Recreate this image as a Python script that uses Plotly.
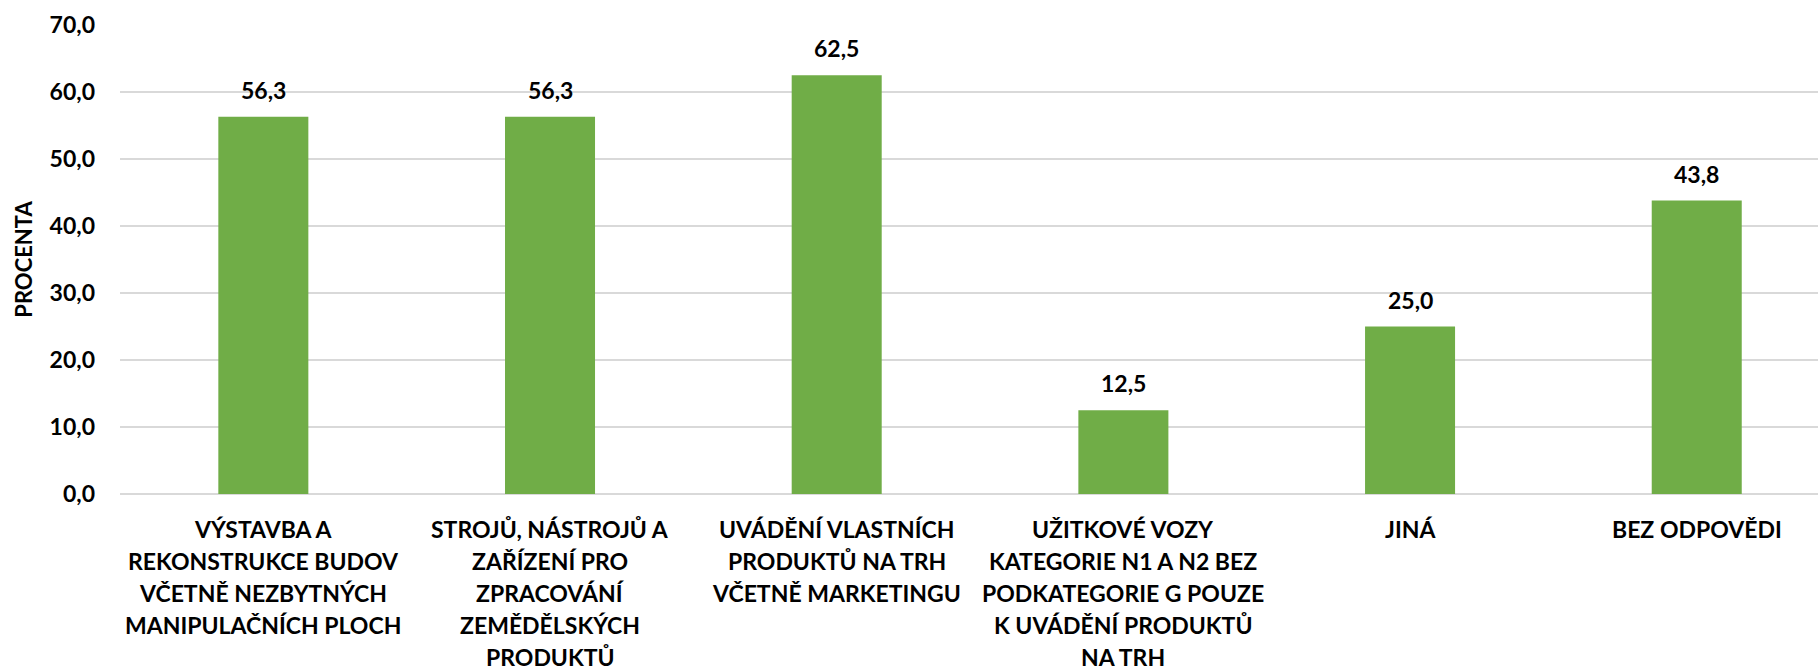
import plotly.graph_objects as go

categories = [
    "VÝSTAVBA A<br>REKONSTRUKCE BUDOV<br>VČETNĚ NEZBYTNÝCH<br>MANIPULAČNÍCH PLOCH",
    "STROJŮ, NÁSTROJŮ A<br>ZAŘÍZENÍ PRO<br>ZPRACOVÁNÍ<br>ZEMĚDĚLSKÝCH<br>PRODUKTŮ",
    "UVÁDĚNÍ VLASTNÍCH<br>PRODUKTŮ NA TRH<br>VČETNĚ MARKETINGU",
    "UŽITKOVÉ VOZY<br>KATEGORIE N1 A N2 BEZ<br>PODKATEGORIE G POUZE<br>K UVÁDĚNÍ PRODUKTŮ<br>NA TRH",
    "JINÁ",
    "BEZ ODPOVĚDI",
]
values = [56.3, 56.3, 62.5, 12.5, 25.0, 43.8]
y_ticks = [0, 10, 20, 30, 40, 50, 60, 70]
y_title = "PROCENTA"

FONT = "Lato, sans-serif"
FS = 23
LINE_GAP = 32
x_idx = list(range(len(categories)))

fig = go.Figure()
fig.add_trace(go.Bar(
    x=x_idx, y=values, width=0.314,
    marker=dict(color="#70AD47", line=dict(width=0)),
    hoverinfo="skip",
))
# value labels
for i, v in zip(x_idx, values):
    fig.add_annotation(
        x=i, y=v, text=f"<b>{v:.1f}</b>".replace(".", ","), showarrow=False,
        yanchor="bottom", yshift=11,
        font=dict(family=FONT, size=FS, color="#000000"),
    )
# category labels (one annotation per line for Excel-like line spacing)
for i, cat in zip(x_idx, categories):
    for k, line in enumerate(cat.split("<br>")):
        fig.add_annotation(
            x=i, y=0, text=f"<b>{line}</b>", showarrow=False,
            yanchor="middle", yshift=-(35 + k * LINE_GAP),
            font=dict(family=FONT, size=FS, color="#000000"),
        )

fig.update_layout(
    width=1818, height=671,
    margin=dict(l=120, r=0, t=25, b=177),
    paper_bgcolor="white", plot_bgcolor="white",
    separators=", ",
    showlegend=False,
    font=dict(family=FONT, size=FS, color="#000000"),
    xaxis=dict(
        tickmode="array", tickvals=x_idx, showticklabels=False,
        range=[-0.5, 5.423], showgrid=False, zeroline=False, showline=False,
        ticks="",
    ),
    yaxis=dict(
        range=[0, 70], tickvals=y_ticks,
        ticktext=[f"<b>{t:.1f}</b>".replace(".", ",") for t in y_ticks],
        showgrid=True, gridcolor="#D9D9D9", gridwidth=2,
        zeroline=True, zerolinecolor="#D9D9D9", zerolinewidth=2,
        showline=False, ticks="", ticklabelstandoff=24,
        tickfont=dict(family=FONT, size=FS, color="#000000"),
        title=dict(text="<b>" + y_title + "</b>", standoff=10,
                   font=dict(family=FONT, size=22, color="#000000")),
    ),
)
fig.write_html("out.html")
